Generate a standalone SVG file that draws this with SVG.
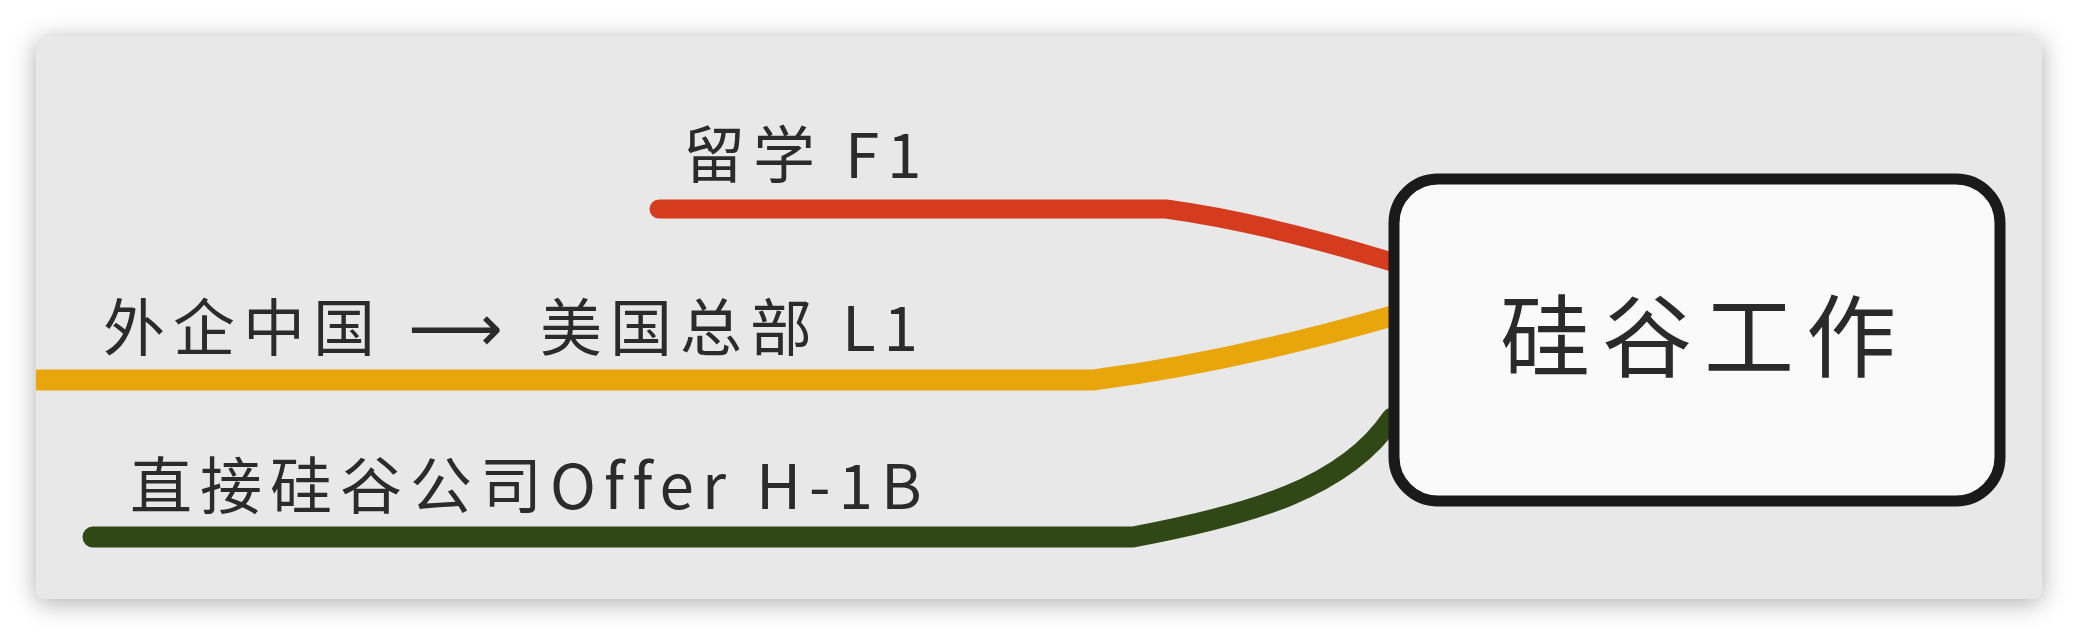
<svg xmlns="http://www.w3.org/2000/svg" width="2078" height="636" viewBox="0 0 2078 636">
  <defs>
    <filter id="shadow" x="-5%" y="-20%" width="110%" height="140%">
      <feDropShadow dx="0" dy="4" stdDeviation="12" flood-color="#000" flood-opacity="0.32"/>
    </filter>
    <clipPath id="panelClip">
      <rect x="36" y="36" width="2006" height="563" rx="10"/>
    </clipPath>
  </defs>
  <style>
    .lbl { font-family: "Noto Sans CJK SC", "Noto Sans", "DejaVu Sans", sans-serif; font-size: 62px; fill: #2b2b2b; letter-spacing: 8px; }
    .arrow { font-family: "DejaVu Sans", "Noto Sans CJK SC", sans-serif; font-size: 66px; letter-spacing: 0px; }
    .center { font-family: "Noto Sans CJK SC", "Noto Sans", sans-serif; font-size: 90px; fill: #2a2a2a; letter-spacing: 12px; }
    .conn { fill: none; stroke-linecap: round; stroke-linejoin: round; }
  </style>
  <rect x="0" y="0" width="2078" height="636" fill="#ffffff"/>
  <rect id="panel" x="36" y="36" width="2006" height="563" rx="10" fill="#e8e8e8" filter="url(#shadow)"/>
  <g id="connectors" clip-path="url(#panelClip)">
    <path class="conn" d="M659,209 H1166 Q1262,222 1392,262" stroke="#d43b1f" stroke-width="19"/>
    <path class="conn" d="M20,380 H1093 Q1232,362 1392,316" stroke="#e9a60b" stroke-width="21"/>
    <path class="conn" d="M93,537 H1133 C1250,515 1345,488 1392,418" stroke="#2f4816" stroke-width="21"/>
  </g>
  <g id="node-f1">
    <text class="lbl" x="683" y="178">留学 F1</text>
  </g>
  <g id="node-l1">
    <text class="lbl" y="351"><tspan x="103">外企中国</tspan><tspan class="arrow" x="408">⟶</tspan><tspan x="540">美国总部 L1</tspan></text>
  </g>
  <g id="node-h1b">
    <text class="lbl" x="130" y="509">直接硅谷公司Offer H-1B</text>
  </g>
  <g id="node-root">
    <rect x="1394" y="179" width="606" height="322" rx="44" fill="#fafafa" stroke="#1a1a1a" stroke-width="11"/>
    <text class="center" x="1500" y="370">硅谷工作</text>
  </g>
</svg>
